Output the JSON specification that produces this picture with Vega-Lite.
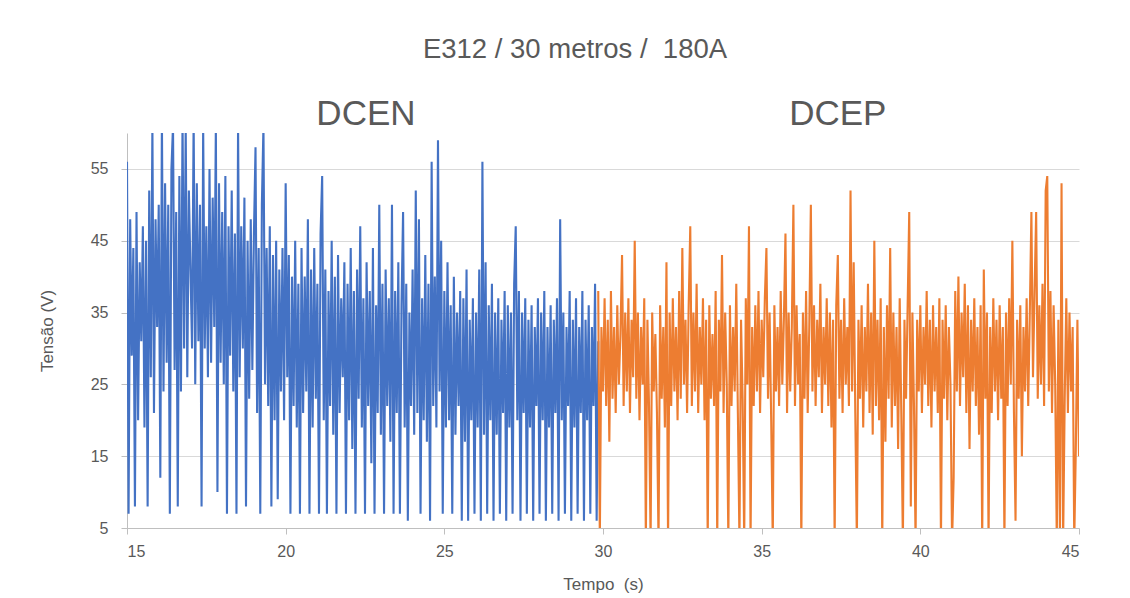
{
"$schema":"https://vega.github.io/schema/vega-lite/v6.json",
"width":952,"height":395,
"autosize":{"type":"none"},
"padding":{"left":127,"top":133,"right":51,"bottom":70},
"background":"white",
"config":{"font":"Liberation Sans","view":{"stroke":null}},
"title":{"text":"E312 / 30 metros /\u00a0 180A","fontSize":27.5,"fontWeight":"normal","color":"#595959","anchor":"middle","frame":"group","dx":-28,"offset":12,"baseline":"alphabetic"},
"datasets":{
"dcen":[{"t":15,"v":56},{"t":15.05,"v":7},{"t":15.1,"v":48},{"t":15.15,"v":29},{"t":15.2,"v":44},{"t":15.25,"v":8},{"t":15.3,"v":49},{"t":15.35,"v":20},{"t":15.4,"v":42},{"t":15.45,"v":31},{"t":15.5,"v":47},{"t":15.55,"v":19},{"t":15.6,"v":45},{"t":15.65,"v":8},{"t":15.7,"v":52},{"t":15.75,"v":26},{"t":15.8,"v":61},{"t":15.85,"v":21},{"t":15.9,"v":48},{"t":15.95,"v":33},
{"t":16,"v":50},{"t":16.05,"v":12},{"t":16.1,"v":62},{"t":16.15,"v":24},{"t":16.2,"v":53},{"t":16.25,"v":28},{"t":16.3,"v":50},{"t":16.35,"v":7},{"t":16.4,"v":55},{"t":16.45,"v":61},{"t":16.5,"v":27},{"t":16.55,"v":49},{"t":16.6,"v":8},{"t":16.65,"v":54},{"t":16.7,"v":24},{"t":16.75,"v":62},{"t":16.8,"v":30},{"t":16.85,"v":61},{"t":16.9,"v":26},{"t":16.95,"v":52},
{"t":17,"v":41},{"t":17.05,"v":30},{"t":17.1,"v":62},{"t":17.15,"v":25},{"t":17.2,"v":53},{"t":17.25,"v":31},{"t":17.3,"v":50},{"t":17.35,"v":8},{"t":17.4,"v":61},{"t":17.45,"v":30},{"t":17.5,"v":47},{"t":17.55,"v":26},{"t":17.6,"v":55},{"t":17.65,"v":28},{"t":17.7,"v":51},{"t":17.75,"v":33},{"t":17.8,"v":61},{"t":17.85,"v":10},{"t":17.9,"v":53},{"t":17.95,"v":28},
{"t":18,"v":49},{"t":18.05,"v":25},{"t":18.1,"v":54},{"t":18.15,"v":7},{"t":18.2,"v":47},{"t":18.25,"v":29},{"t":18.3,"v":52},{"t":18.35,"v":24},{"t":18.4,"v":46},{"t":18.45,"v":7},{"t":18.5,"v":61},{"t":18.55,"v":26},{"t":18.6,"v":47},{"t":18.65,"v":30},{"t":18.7,"v":51},{"t":18.75,"v":8},{"t":18.8,"v":45},{"t":18.85,"v":23},{"t":18.9,"v":48},{"t":18.95,"v":27},
{"t":19,"v":46},{"t":19.05,"v":58},{"t":19.1,"v":21},{"t":19.15,"v":44},{"t":19.2,"v":7},{"t":19.25,"v":50},{"t":19.3,"v":61},{"t":19.35,"v":25},{"t":19.4,"v":44},{"t":19.45,"v":22},{"t":19.5,"v":47},{"t":19.55,"v":8},{"t":19.6,"v":43},{"t":19.65,"v":20},{"t":19.7,"v":45},{"t":19.75,"v":9},{"t":19.8,"v":41},{"t":19.85,"v":24},{"t":19.9,"v":44},{"t":19.95,"v":20},
{"t":20,"v":53},{"t":20.05,"v":26},{"t":20.1,"v":43},{"t":20.15,"v":7},{"t":20.2,"v":40},{"t":20.25,"v":22},{"t":20.3,"v":45},{"t":20.35,"v":19},{"t":20.4,"v":39},{"t":20.45,"v":7},{"t":20.5,"v":44},{"t":20.55,"v":21},{"t":20.6,"v":40},{"t":20.65,"v":24},{"t":20.7,"v":48},{"t":20.75,"v":7},{"t":20.8,"v":41},{"t":20.85,"v":19},{"t":20.9,"v":44},{"t":20.95,"v":23},
{"t":21,"v":39},{"t":21.05,"v":7},{"t":21.1,"v":46},{"t":21.15,"v":54},{"t":21.2,"v":20},{"t":21.25,"v":41},{"t":21.3,"v":7},{"t":21.35,"v":38},{"t":21.4,"v":22},{"t":21.45,"v":45},{"t":21.5,"v":18},{"t":21.55,"v":40},{"t":21.6,"v":7},{"t":21.65,"v":43},{"t":21.7,"v":21},{"t":21.75,"v":37},{"t":21.8,"v":26},{"t":21.85,"v":42},{"t":21.9,"v":7},{"t":21.95,"v":39},
{"t":22,"v":20},{"t":22.05,"v":44},{"t":22.1,"v":16},{"t":22.15,"v":38},{"t":22.2,"v":7},{"t":22.25,"v":41},{"t":22.3,"v":23},{"t":22.35,"v":47},{"t":22.4,"v":19},{"t":22.45,"v":37},{"t":22.5,"v":7},{"t":22.55,"v":42},{"t":22.6,"v":22},{"t":22.65,"v":38},{"t":22.7,"v":14},{"t":22.75,"v":44},{"t":22.8,"v":7},{"t":22.85,"v":36},{"t":22.9,"v":21},{"t":22.95,"v":50},
{"t":23,"v":18},{"t":23.05,"v":39},{"t":23.1,"v":7},{"t":23.15,"v":41},{"t":23.2,"v":22},{"t":23.25,"v":37},{"t":23.3,"v":17},{"t":23.35,"v":50},{"t":23.4,"v":7},{"t":23.45,"v":38},{"t":23.5,"v":21},{"t":23.55,"v":42},{"t":23.6,"v":7},{"t":23.65,"v":36},{"t":23.7,"v":49},{"t":23.75,"v":19},{"t":23.8,"v":39},{"t":23.85,"v":6},{"t":23.9,"v":35},{"t":23.95,"v":22},
{"t":24,"v":41},{"t":24.05,"v":18},{"t":24.1,"v":52},{"t":24.15,"v":21},{"t":24.2,"v":48},{"t":24.25,"v":7},{"t":24.3,"v":37},{"t":24.35,"v":20},{"t":24.4,"v":43},{"t":24.45,"v":17},{"t":24.5,"v":39},{"t":24.55,"v":6},{"t":24.6,"v":56},{"t":24.65,"v":22},{"t":24.7,"v":40},{"t":24.75,"v":19},{"t":24.8,"v":59},{"t":24.85,"v":24},{"t":24.9,"v":45},{"t":24.95,"v":7},
{"t":25,"v":38},{"t":25.05,"v":19},{"t":25.1,"v":42},{"t":25.15,"v":20},{"t":25.2,"v":36},{"t":25.25,"v":7},{"t":25.3,"v":40},{"t":25.35,"v":18},{"t":25.4,"v":35},{"t":25.45,"v":22},{"t":25.5,"v":38},{"t":25.55,"v":6},{"t":25.6,"v":37},{"t":25.65,"v":17},{"t":25.7,"v":41},{"t":25.75,"v":6},{"t":25.8,"v":34},{"t":25.85,"v":20},{"t":25.9,"v":37},{"t":25.95,"v":7},
{"t":26,"v":35},{"t":26.05,"v":19},{"t":26.1,"v":41},{"t":26.15,"v":6},{"t":26.2,"v":56},{"t":26.25,"v":18},{"t":26.3,"v":42},{"t":26.35,"v":7},{"t":26.4,"v":36},{"t":26.45,"v":20},{"t":26.5,"v":39},{"t":26.55,"v":6},{"t":26.6,"v":35},{"t":26.65,"v":18},{"t":26.7,"v":37},{"t":26.75,"v":7},{"t":26.8,"v":34},{"t":26.85,"v":21},{"t":26.9,"v":38},{"t":26.95,"v":6},
{"t":27,"v":36},{"t":27.05,"v":19},{"t":27.1,"v":35},{"t":27.15,"v":7},{"t":27.2,"v":39},{"t":27.25,"v":47},{"t":27.3,"v":20},{"t":27.35,"v":38},{"t":27.4,"v":6},{"t":27.45,"v":35},{"t":27.5,"v":21},{"t":27.55,"v":37},{"t":27.6,"v":7},{"t":27.65,"v":34},{"t":27.7,"v":19},{"t":27.75,"v":36},{"t":27.8,"v":6},{"t":27.85,"v":33},{"t":27.9,"v":22},{"t":27.95,"v":37},
{"t":28,"v":7},{"t":28.05,"v":35},{"t":28.1,"v":20},{"t":28.15,"v":38},{"t":28.2,"v":6},{"t":28.25,"v":33},{"t":28.3,"v":19},{"t":28.35,"v":36},{"t":28.4,"v":7},{"t":28.45,"v":34},{"t":28.5,"v":21},{"t":28.55,"v":37},{"t":28.6,"v":6},{"t":28.65,"v":48},{"t":28.7,"v":20},{"t":28.75,"v":35},{"t":28.8,"v":7},{"t":28.85,"v":33},{"t":28.9,"v":22},{"t":28.95,"v":38},
{"t":29,"v":6},{"t":29.05,"v":34},{"t":29.1,"v":19},{"t":29.15,"v":37},{"t":29.2,"v":7},{"t":29.25,"v":33},{"t":29.3,"v":21},{"t":29.35,"v":38},{"t":29.4,"v":6},{"t":29.45,"v":34},{"t":29.5,"v":20},{"t":29.55,"v":36},{"t":29.6,"v":7},{"t":29.65,"v":33},{"t":29.7,"v":22},{"t":29.75,"v":39},{"t":29.8,"v":6},{"t":29.85,"v":31}],
"dcep":[{"t":29.85,"v":38},{"t":29.9,"v":3},{"t":29.95,"v":33},
{"t":30,"v":24},{"t":30.05,"v":37},{"t":30.1,"v":22},{"t":30.15,"v":34},{"t":30.2,"v":17},{"t":30.25,"v":38},{"t":30.3,"v":23},{"t":30.35,"v":33},{"t":30.4,"v":21},{"t":30.45,"v":36},{"t":30.5,"v":25},{"t":30.55,"v":32},{"t":30.6,"v":43},{"t":30.65,"v":22},{"t":30.7,"v":35},{"t":30.75,"v":24},{"t":30.8,"v":37},{"t":30.85,"v":21},{"t":30.9,"v":34},{"t":30.95,"v":26},
{"t":31,"v":45},{"t":31.05,"v":23},{"t":31.1,"v":35},{"t":31.15,"v":20},{"t":31.2,"v":33},{"t":31.25,"v":25},{"t":31.3,"v":37},{"t":31.35,"v":3},{"t":31.4,"v":34},{"t":31.45,"v":22},{"t":31.5,"v":3},{"t":31.55,"v":35},{"t":31.6,"v":24},{"t":31.65,"v":32},{"t":31.7,"v":21},{"t":31.75,"v":3},{"t":31.8,"v":36},{"t":31.85,"v":23},{"t":31.9,"v":33},{"t":31.95,"v":19},
{"t":32,"v":42},{"t":32.05,"v":3},{"t":32.1,"v":35},{"t":32.15,"v":22},{"t":32.2,"v":37},{"t":32.25,"v":24},{"t":32.3,"v":33},{"t":32.35,"v":20},{"t":32.4,"v":38},{"t":32.45,"v":23},{"t":32.5,"v":44},{"t":32.55,"v":25},{"t":32.6,"v":34},{"t":32.65,"v":21},{"t":32.7,"v":36},{"t":32.75,"v":47},{"t":32.8,"v":22},{"t":32.85,"v":35},{"t":32.9,"v":24},{"t":32.95,"v":39},
{"t":33,"v":21},{"t":33.05,"v":33},{"t":33.1,"v":25},{"t":33.15,"v":37},{"t":33.2,"v":20},{"t":33.25,"v":34},{"t":33.3,"v":3},{"t":33.35,"v":36},{"t":33.4,"v":23},{"t":33.45,"v":32},{"t":33.5,"v":22},{"t":33.55,"v":38},{"t":33.6,"v":3},{"t":33.65,"v":34},{"t":33.7,"v":24},{"t":33.75,"v":43},{"t":33.8,"v":21},{"t":33.85,"v":35},{"t":33.9,"v":25},{"t":33.95,"v":3},
{"t":34,"v":36},{"t":34.05,"v":22},{"t":34.1,"v":33},{"t":34.15,"v":24},{"t":34.2,"v":39},{"t":34.25,"v":21},{"t":34.3,"v":3},{"t":34.35,"v":34},{"t":34.4,"v":23},{"t":34.45,"v":3},{"t":34.5,"v":37},{"t":34.55,"v":25},{"t":34.6,"v":47},{"t":34.65,"v":3},{"t":34.7,"v":33},{"t":34.75,"v":22},{"t":34.8,"v":36},{"t":34.85,"v":24},{"t":34.9,"v":38},{"t":34.95,"v":21},
{"t":35,"v":34},{"t":35.05,"v":26},{"t":35.1,"v":37},{"t":35.15,"v":44},{"t":35.2,"v":23},{"t":35.25,"v":35},{"t":35.3,"v":20},{"t":35.35,"v":3},{"t":35.4,"v":36},{"t":35.45,"v":24},{"t":35.5,"v":33},{"t":35.55,"v":22},{"t":35.6,"v":38},{"t":35.65,"v":25},{"t":35.7,"v":34},{"t":35.75,"v":46},{"t":35.8,"v":21},{"t":35.85,"v":35},{"t":35.9,"v":24},{"t":35.95,"v":33},
{"t":36,"v":50},{"t":36.05,"v":22},{"t":36.1,"v":36},{"t":36.15,"v":25},{"t":36.2,"v":32},{"t":36.25,"v":3},{"t":36.3,"v":35},{"t":36.35,"v":23},{"t":36.4,"v":38},{"t":36.45,"v":21},{"t":36.5,"v":33},{"t":36.55,"v":50},{"t":36.6,"v":24},{"t":36.65,"v":36},{"t":36.7,"v":22},{"t":36.75,"v":34},{"t":36.8,"v":26},{"t":36.85,"v":39},{"t":36.9,"v":21},{"t":36.95,"v":33},
{"t":37,"v":25},{"t":37.05,"v":37},{"t":37.1,"v":22},{"t":37.15,"v":35},{"t":37.2,"v":19},{"t":37.25,"v":34},{"t":37.3,"v":3},{"t":37.35,"v":36},{"t":37.4,"v":43},{"t":37.45,"v":23},{"t":37.5,"v":34},{"t":37.55,"v":21},{"t":37.6,"v":37},{"t":37.65,"v":25},{"t":37.7,"v":33},{"t":37.75,"v":22},{"t":37.8,"v":52},{"t":37.85,"v":24},{"t":37.9,"v":42},{"t":37.95,"v":21},
{"t":38,"v":3},{"t":38.05,"v":34},{"t":38.1,"v":23},{"t":38.15,"v":36},{"t":38.2,"v":19},{"t":38.25,"v":33},{"t":38.3,"v":24},{"t":38.35,"v":39},{"t":38.4,"v":21},{"t":38.45,"v":35},{"t":38.5,"v":18},{"t":38.55,"v":45},{"t":38.6,"v":22},{"t":38.65,"v":34},{"t":38.7,"v":20},{"t":38.75,"v":37},{"t":38.8,"v":3},{"t":38.85,"v":33},{"t":38.9,"v":17},{"t":38.95,"v":36},
{"t":39,"v":23},{"t":39.05,"v":44},{"t":39.1,"v":19},{"t":39.15,"v":35},{"t":39.2,"v":22},{"t":39.25,"v":33},{"t":39.3,"v":16},{"t":39.35,"v":37},{"t":39.4,"v":21},{"t":39.45,"v":3},{"t":39.5,"v":34},{"t":39.55,"v":23},{"t":39.6,"v":36},{"t":39.65,"v":49},{"t":39.7,"v":8},{"t":39.75,"v":35},{"t":39.8,"v":22},{"t":39.85,"v":3},{"t":39.9,"v":34},{"t":39.95,"v":24},
{"t":40,"v":36},{"t":40.05,"v":21},{"t":40.1,"v":33},{"t":40.15,"v":25},{"t":40.2,"v":38},{"t":40.25,"v":22},{"t":40.3,"v":34},{"t":40.35,"v":19},{"t":40.4,"v":36},{"t":40.45,"v":24},{"t":40.5,"v":33},{"t":40.55,"v":21},{"t":40.6,"v":37},{"t":40.65,"v":3},{"t":40.7,"v":34},{"t":40.75,"v":23},{"t":40.8,"v":36},{"t":40.85,"v":20},{"t":40.9,"v":33},{"t":40.95,"v":25},
{"t":41,"v":3},{"t":41.05,"v":12},{"t":41.1,"v":38},{"t":41.15,"v":24},{"t":41.2,"v":40},{"t":41.25,"v":22},{"t":41.3,"v":35},{"t":41.35,"v":26},{"t":41.4,"v":39},{"t":41.45,"v":21},{"t":41.5,"v":36},{"t":41.55,"v":16},{"t":41.6,"v":34},{"t":41.65,"v":24},{"t":41.7,"v":37},{"t":41.75,"v":22},{"t":41.8,"v":33},{"t":41.85,"v":18},{"t":41.9,"v":36},{"t":41.95,"v":3},
{"t":42,"v":41},{"t":42.05,"v":23},{"t":42.1,"v":35},{"t":42.15,"v":3},{"t":42.2,"v":33},{"t":42.25,"v":21},{"t":42.3,"v":37},{"t":42.35,"v":24},{"t":42.4,"v":34},{"t":42.45,"v":20},{"t":42.5,"v":36},{"t":42.55,"v":23},{"t":42.6,"v":33},{"t":42.65,"v":3},{"t":42.7,"v":35},{"t":42.75,"v":22},{"t":42.8,"v":37},{"t":42.85,"v":25},{"t":42.9,"v":45},{"t":42.95,"v":21},
{"t":43,"v":6},{"t":43.05,"v":34},{"t":43.1,"v":23},{"t":43.15,"v":36},{"t":43.2,"v":15},{"t":43.25,"v":33},{"t":43.3,"v":24},{"t":43.35,"v":37},{"t":43.4,"v":22},{"t":43.45,"v":35},{"t":43.5,"v":49},{"t":43.55,"v":26},{"t":43.6,"v":38},{"t":43.65,"v":49},{"t":43.7,"v":23},{"t":43.75,"v":36},{"t":43.8,"v":25},{"t":43.85,"v":39},{"t":43.9,"v":22},{"t":43.95,"v":52},
{"t":44,"v":54},{"t":44.05,"v":24},{"t":44.1,"v":38},{"t":44.15,"v":21},{"t":44.2,"v":36},{"t":44.25,"v":25},{"t":44.3,"v":3},{"t":44.35,"v":34},{"t":44.4,"v":3},{"t":44.45,"v":53},{"t":44.5,"v":3},{"t":44.55,"v":23},{"t":44.6,"v":37},{"t":44.65,"v":21},{"t":44.7,"v":35},{"t":44.75,"v":24},{"t":44.8,"v":33},{"t":44.85,"v":3},{"t":44.9,"v":16},{"t":44.95,"v":34},{"t":45,"v":15}],
"labels":[{"t":22.53,"v":61.1,"label":"DCEN"},{"t":37.4,"v":61.1,"label":"DCEP"}]
},
"encoding":{
"x":{"field":"t","type":"quantitative","scale":{"domain":[15,45],"nice":false,"zero":false},
"axis":{"values":[15,20,25,30,35,40,45],"title":"Tempo\u00a0 (s)","grid":false,"domainColor":"#bfbfbf","tickColor":"#bfbfbf","tickSize":6,"labelFontSize":16,"labelColor":"#595959","labelPadding":9,"titleFontSize":17,"titleFontWeight":"normal","titleColor":"#595959","titlePadding":17}},
"y":{"field":"v","type":"quantitative","scale":{"domain":[5,60],"nice":false,"zero":false},
"axis":{"values":[5,15,25,35,45,55],"title":"Tensão (V)","grid":true,"gridColor":"#d9d9d9","domainColor":"#bfbfbf","tickColor":"#bfbfbf","tickSize":6,"labelFontSize":16,"labelColor":"#595959","labelPadding":13,"titleFontSize":17,"titleFontWeight":"normal","titleColor":"#595959","titlePadding":34}}
},
"layer":[
{"data":{"name":"dcen"},"mark":{"type":"line","color":"#4472C4","strokeWidth":2.1,"clip":true}},
{"data":{"name":"dcep"},"mark":{"type":"line","color":"#ED7D31","strokeWidth":2.1,"clip":true}},
{"data":{"name":"labels"},"mark":{"type":"text","fontSize":35,"color":"#595959","baseline":"alphabetic","align":"center"},"encoding":{"text":{"field":"label"}}}
]
}
